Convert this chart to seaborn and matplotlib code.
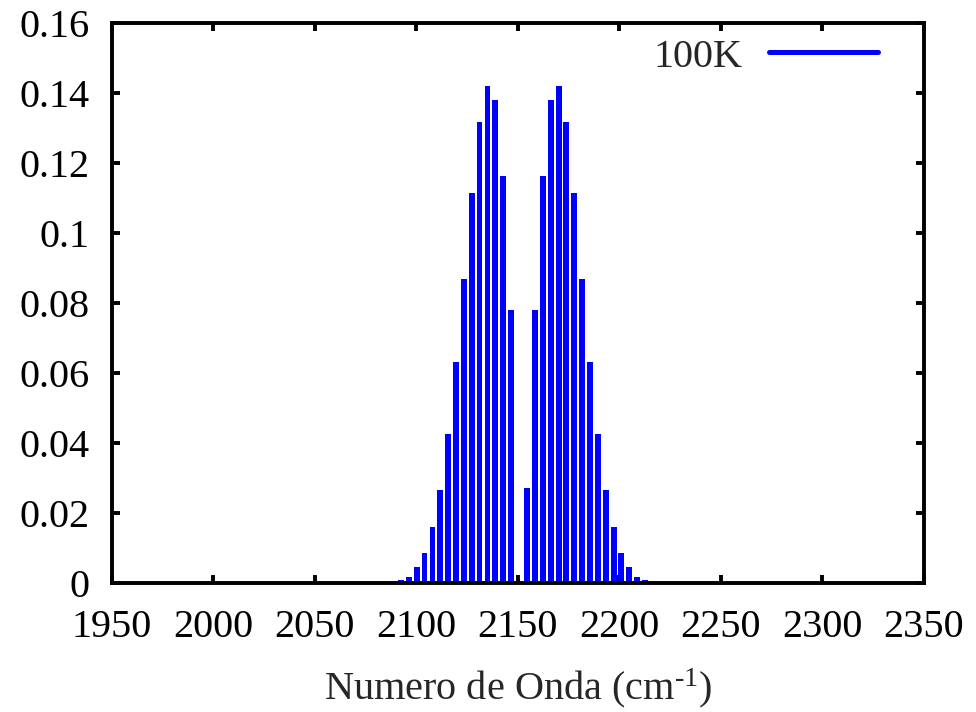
import matplotlib
matplotlib.use("Agg")
import matplotlib.pyplot as plt
from matplotlib.lines import Line2D
import seaborn as sns
import pandas as pd

# P-branch line positions (cm^-1) and intensities
p_pos = [2092.5, 2096.4, 2100.2, 2104.1, 2108.0, 2111.9, 2115.7, 2119.6,
         2123.5, 2127.3, 2131.2, 2135.1, 2138.9, 2142.8, 2146.7]
p_val = [0.0010, 0.0018, 0.0045, 0.0085, 0.0160, 0.0266, 0.0426, 0.0632,
         0.0868, 0.1114, 0.1316, 0.1420, 0.1381, 0.1163, 0.0779]
# R-branch line positions (cm^-1) and intensities
r_pos = [2154.6, 2158.5, 2162.3, 2166.2, 2170.1, 2173.9, 2177.8, 2181.7,
         2185.6, 2189.4, 2193.3, 2197.2, 2201.0, 2204.9, 2208.8, 2212.7]
r_val = [0.0271, 0.0779, 0.1163, 0.1380, 0.1420, 0.1316, 0.1114, 0.0868,
         0.0632, 0.0426, 0.0266, 0.0160, 0.0085, 0.0045, 0.0018, 0.0010]

x_ticks = [1950, 2000, 2050, 2100, 2150, 2200, 2250, 2300, 2350]
y_ticks = [0, 0.02, 0.04, 0.06, 0.08, 0.1, 0.12, 0.14, 0.16]
y_labels = ["0", "0.02", "0.04", "0.06", "0.08", "0.1", "0.12", "0.14", "0.16"]
series_label = "100K"

FS = 29

sns.set_style("ticks")
plt.rcParams["font.family"] = ["Liberation Serif", "DejaVu Serif"]
plt.rcParams["mathtext.fontset"] = "custom"
plt.rcParams["mathtext.rm"] = "Liberation Serif"
plt.rcParams["mathtext.it"] = "Liberation Serif:italic"

df = pd.DataFrame({"x": p_pos + r_pos, "y": p_val + r_val})

fig = plt.figure(figsize=(9.76, 7.12), dpi=100)
ax = fig.add_axes([111.5 / 976, 1 - 583 / 712, (924 - 111.5) / 976, (583 - 23) / 712])

sns.barplot(data=df, x="x", y="y", native_scale=True, color="#0000ff",
            saturation=1, errorbar=None, width=0.76, linewidth=0, ax=ax)

ax.set_xlim(1950, 2350)
ax.set_ylim(0, 0.16)
ax.set_xticks(x_ticks)
ax.set_xticklabels([str(t) for t in x_ticks])
ax.set_yticks(y_ticks)
ax.set_yticklabels(y_labels)
ax.set_xlabel(r"Numero de Onda (cm$^{\text{-1}}$)", fontsize=FS, labelpad=14)
ax.set_ylabel("")

for s in ax.spines.values():
    s.set_visible(True)
    s.set_linewidth(2.8)
    s.set_color("black")
    s.set_zorder(5)

ax.tick_params(axis="both", which="major", direction="in", length=6, width=2.8,
               labelsize=FS, top=True, right=True, colors="black")
ax.tick_params(axis="x", pad=19)
ax.tick_params(axis="y", pad=16)

handle = Line2D([0], [0], color="#0000ff", linewidth=3.6)
ax.legend(handles=[handle], labels=[series_label], loc="center right",
          bbox_to_anchor=(878 / 976, 1 - 57 / 712), bbox_transform=fig.transFigure,
          frameon=False, markerfirst=False, fontsize=FS, handlelength=2.7,
          handletextpad=0.66, borderpad=0, borderaxespad=0)

fig.savefig("out.png", dpi=100)
